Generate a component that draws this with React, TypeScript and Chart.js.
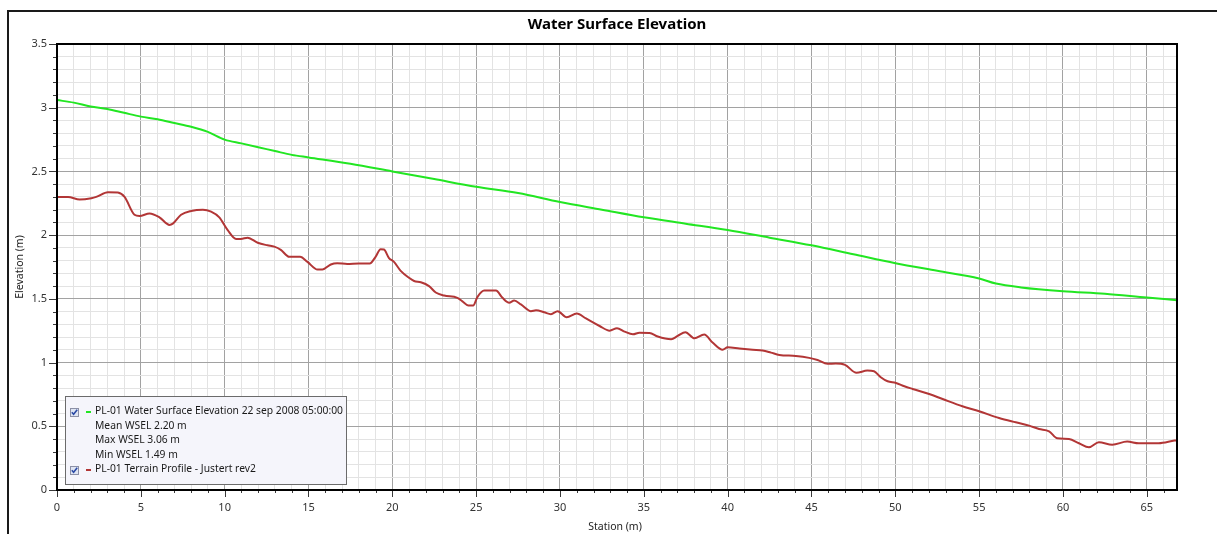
import React, { useEffect, useRef } from 'react';
import { Chart, registerables } from 'chart.js';

Chart.register(...registerables);

const W = 1217;
const H = 534;
const FONT = '"Noto Sans", "Open Sans", sans-serif';

const chartTitle = 'Water Surface Elevation';
const xAxisTitle = 'Station (m)';
const yAxisTitle = 'Elevation (m)';

const xMajorTicks = [0, 5, 10, 15, 20, 25, 30, 35, 40, 45, 50, 55, 60, 65];
const xTickLabels = ['0', '5', '10', '15', '20', '25', '30', '35', '40', '45', '50', '55', '60', '65'];
const yMajorTicks = [0, 0.5, 1, 1.5, 2, 2.5, 3, 3.5];
const yTickLabels = ['0', '0.5', '1', '1.5', '2', '2.5', '3', '3.5'];

const wseLabel = 'PL-01 Water Surface Elevation 22 sep 2008 05:00:00';
const wseStats = ['Mean WSEL 2.20 m', 'Max WSEL 3.06 m', 'Min WSEL 1.49 m'];
const terrainLabel = 'PL-01 Terrain Profile - Justert rev2';

const wseStation = [0, 1, 2, 3, 4, 5, 6, 7, 8, 9, 10, 11, 12, 13, 14, 15, 17.5, 20, 22.5, 25, 27.5, 30, 32.5, 35, 37.5, 40, 42.5, 45, 47.5, 50, 52.5, 55, 56, 57.5, 60, 62.5, 65, 66.8];
const wseElevation = [3.06, 3.04, 3.01, 2.99, 2.96, 2.93, 2.91, 2.88, 2.85, 2.81, 2.75, 2.72, 2.69, 2.66, 2.63, 2.61, 2.56, 2.5, 2.44, 2.38, 2.33, 2.26, 2.2, 2.14, 2.09, 2.04, 1.98, 1.92, 1.85, 1.78, 1.72, 1.66, 1.62, 1.59, 1.56, 1.54, 1.51, 1.49];

const terrainStation = [
  0, 0.66, 1.35, 2.05, 2.34, 3.04, 3.63, 4.03, 4.62, 4.92, 5.52, 6.11, 6.71, 6.91, 7.4, 8.0, 8.7, 9.19, 9.68,
  10.18, 10.68, 10.97, 11.37, 11.97, 12.56, 12.96, 13.35, 13.85, 14.5, 14.94, 15.54, 15.83, 16.33, 16.71, 17.31,
  18.0, 18.65, 19.0, 19.3, 19.5, 19.8, 20.1, 20.5, 21.0, 21.3, 21.7, 22.19, 22.59, 23.09, 23.88, 24.18, 24.54,
  24.82, 25.08, 25.48, 26.18, 26.57, 26.97, 27.27, 27.67, 28.27, 28.57, 29.06, 29.46, 29.86, 30.4, 31.0, 31.55,
  32.36, 32.96, 33.4, 33.85, 34.35, 34.74, 35.34, 35.83, 36.63, 37.02, 37.48, 38.02, 38.6, 39.1, 39.7, 40.0,
  40.7, 41.49, 42.08, 42.58, 43.08, 44.07, 44.86, 45.36, 45.95, 46.45, 47.0, 47.68, 48.33, 48.73, 49.13, 49.54,
  50.04, 50.54, 51.03, 52.02, 52.82, 54.0, 55.0, 56.19, 57.18, 57.98, 58.57, 59.17, 59.66, 60.36, 60.95, 61.55,
  62.14, 62.94, 63.83, 64.52, 65.71, 66.65, 66.8,
];
const terrainElevation = [
  2.3, 2.3, 2.28, 2.29, 2.3, 2.337, 2.334, 2.3, 2.16, 2.15, 2.17, 2.14, 2.08, 2.09, 2.16, 2.19, 2.2, 2.185, 2.14,
  2.04, 1.97, 1.97, 1.98, 1.94, 1.92, 1.91, 1.885, 1.83, 1.83, 1.79, 1.73, 1.73, 1.77, 1.78, 1.774,
  1.777, 1.777, 1.83, 1.89, 1.887, 1.82, 1.79, 1.72, 1.665, 1.64, 1.63, 1.6, 1.55, 1.526, 1.508, 1.48, 1.448,
  1.448, 1.516, 1.565, 1.565, 1.508, 1.47, 1.487, 1.456, 1.403, 1.41, 1.395, 1.38, 1.403, 1.356, 1.385, 1.346,
  1.287, 1.25, 1.27, 1.243, 1.222, 1.235, 1.233, 1.204, 1.183, 1.209, 1.238, 1.19, 1.22, 1.157, 1.1, 1.12,
  1.11, 1.1, 1.094, 1.078, 1.06, 1.052, 1.037, 1.02, 0.99, 0.992, 0.982, 0.92, 0.937, 0.932, 0.885, 0.853,
  0.84, 0.814, 0.793, 0.753, 0.714, 0.657, 0.618, 0.565, 0.531, 0.505, 0.479, 0.461, 0.406, 0.4, 0.367, 0.335,
  0.375, 0.356, 0.38, 0.367, 0.367, 0.388, 0.39,
];

const WSE_COLOR = '#22e622';
const TERRAIN_COLOR = '#b23636';

const isMajor = (v: number, list: number[]) => list.some((t) => Math.abs(t - v) < 1e-6);
const labelFor = (v: number, list: number[], labels: string[]) => {
  const i = list.findIndex((t) => Math.abs(t - v) < 1e-6);
  return i >= 0 ? labels[i] : '';
};

function drawCheckbox(ctx: CanvasRenderingContext2D, x: number, y: number) {
  ctx.fillStyle = '#dfe5f3';
  ctx.fillRect(x, y, 8, 8);
  ctx.strokeStyle = '#8c90a6';
  ctx.lineWidth = 1;
  ctx.strokeRect(x + 0.5, y + 0.5, 8, 8);
  ctx.strokeStyle = '#2b4aa5';
  ctx.lineWidth = 1.6;
  ctx.beginPath();
  ctx.moveTo(x + 1.8, y + 4.2);
  ctx.lineTo(x + 3.6, y + 6.2);
  ctx.lineTo(x + 7.2, y + 1.8);
  ctx.stroke();
}

const decorPlugin = {
  id: 'decor',
  beforeDraw(chart: any) {
    const ctx = chart.ctx as CanvasRenderingContext2D;
    ctx.save();
    ctx.fillStyle = '#ffffff';
    ctx.fillRect(0, 0, chart.width, chart.height);
    ctx.restore();
  },
  afterDraw(chart: any) {
    const ctx = chart.ctx as CanvasRenderingContext2D;
    const a = chart.chartArea;
    const xs = chart.scales.x;
    const ys = chart.scales.y;
    ctx.save();

    // tick marks
    ctx.strokeStyle = '#3a3a3a';
    ctx.lineWidth = 1;
    ctx.beginPath();
    ys.ticks.forEach((t: any) => {
      const py = Math.round(ys.getPixelForValue(t.value)) + 0.5;
      const len = isMajor(t.value, yMajorTicks) ? 8 : 4;
      ctx.moveTo(a.left - len, py);
      ctx.lineTo(a.left, py);
    });
    xs.ticks.forEach((t: any) => {
      const px = Math.round(xs.getPixelForValue(t.value)) + 0.5;
      const len = isMajor(t.value, xMajorTicks) ? 7 : 3;
      ctx.moveTo(px, a.bottom);
      ctx.lineTo(px, a.bottom + len);
    });
    ctx.stroke();

    // plot border
    ctx.strokeStyle = '#000000';
    ctx.lineWidth = 2;
    ctx.strokeRect(a.left, a.top, a.right - a.left, a.bottom - a.top);

    // outer frame
    ctx.strokeStyle = '#1a1a1a';
    ctx.lineWidth = 2;
    ctx.beginPath();
    ctx.moveTo(8, H);
    ctx.lineTo(8, 11);
    ctx.lineTo(W, 11);
    ctx.stroke();

    // title
    ctx.fillStyle = '#000000';
    ctx.font = `bold 15px ${FONT}`;
    ctx.textAlign = 'center';
    ctx.textBaseline = 'middle';
    ctx.fillText(chartTitle, (a.left + a.right) / 2, 25);

    // axis titles
    ctx.fillStyle = '#222222';
    ctx.font = `10.5px ${FONT}`;
    ctx.fillText(xAxisTitle, (a.left + a.right) / 2 - 2, 527);
    ctx.save();
    ctx.translate(20, (a.top + a.bottom) / 2);
    ctx.rotate(-Math.PI / 2);
    ctx.fillText(yAxisTitle, 0, 0);
    ctx.restore();

    // legend
    const lx = 65, ly = 396, lw = 281, lh = 88;
    ctx.fillStyle = '#f5f5fb';
    ctx.fillRect(lx, ly, lw, lh);
    ctx.strokeStyle = '#6b6b6b';
    ctx.lineWidth = 1;
    ctx.strokeRect(lx + 0.5, ly + 0.5, lw, lh);

    const rows = [411.5, 426, 440.5, 455, 469.5];
    ctx.font = `10.3px ${FONT}`;
    ctx.textAlign = 'left';
    ctx.textBaseline = 'middle';
    ctx.fillStyle = '#1a1a1a';

    drawCheckbox(ctx, 70, Math.round(rows[0]) - 4);
    ctx.fillStyle = WSE_COLOR;
    ctx.fillRect(86, Math.round(rows[0]) - 1, 5, 2);
    ctx.fillStyle = '#1a1a1a';
    ctx.fillText(wseLabel, 95, rows[0]);
    wseStats.forEach((s, i) => ctx.fillText(s, 95, rows[i + 1]));

    drawCheckbox(ctx, 70, Math.round(rows[4]) - 4);
    ctx.fillStyle = TERRAIN_COLOR;
    ctx.fillRect(86, Math.round(rows[4]) - 1, 5, 2);
    ctx.fillStyle = '#1a1a1a';
    ctx.fillText(terrainLabel, 95, rows[4]);

    ctx.restore();
  },
};

export default function App() {
  const canvasRef = useRef<HTMLCanvasElement | null>(null);

  useEffect(() => {
    const canvas = canvasRef.current;
    if (!canvas) return;
    const gridColor = (list: number[]) => (c: any) =>
      c.tick && isMajor(c.tick.value, list) ? '#a2a2a2' : '#e3e3e3';

    const chart = new Chart(canvas, {
      type: 'line',
      data: {
        datasets: [
          {
            label: wseLabel,
            data: wseStation.map((x, i) => ({ x, y: wseElevation[i] })),
            borderColor: WSE_COLOR,
            backgroundColor: WSE_COLOR,
            borderWidth: 2,
            pointRadius: 0,
            cubicInterpolationMode: 'monotone',
            fill: false,
          },
          {
            label: terrainLabel,
            data: terrainStation.map((x, i) => ({ x, y: terrainElevation[i] })),
            borderColor: TERRAIN_COLOR,
            backgroundColor: TERRAIN_COLOR,
            borderWidth: 2,
            pointRadius: 0,
            cubicInterpolationMode: 'monotone',
            fill: false,
          },
        ],
      },
      options: {
        responsive: false,
        animation: false,
        devicePixelRatio: 1,
        layout: { padding: { left: 0, top: 44, right: 40, bottom: 0 } },
        plugins: {
          legend: { display: false },
          title: { display: false },
          tooltip: { enabled: false },
        },
        scales: {
          x: {
            type: 'linear',
            min: 0,
            max: 66.8,
            afterFit: (s: any) => {
              s.height = 44;
            },
            ticks: {
              stepSize: 1,
              includeBounds: false,
              autoSkip: false,
              maxRotation: 0,
              minRotation: 0,
              padding: 11,
              color: '#333333',
              font: { family: FONT, size: 11 },
              callback: (v: any) => labelFor(Number(v), xMajorTicks, xTickLabels),
            },
            grid: { color: gridColor(xMajorTicks), lineWidth: 1, drawTicks: false },
            border: { display: false },
          },
          y: {
            type: 'linear',
            min: 0,
            max: 3.5,
            afterFit: (s: any) => {
              s.width = 57;
            },
            ticks: {
              stepSize: 0.1,
              includeBounds: false,
              autoSkip: false,
              padding: 10,
              color: '#333333',
              font: { family: FONT, size: 11 },
              callback: (v: any) => labelFor(Number(v), yMajorTicks, yTickLabels),
            },
            grid: { color: gridColor(yMajorTicks), lineWidth: 1, drawTicks: false },
            border: { display: false },
          },
        },
      },
      plugins: [decorPlugin],
    } as any);

    return () => chart.destroy();
  }, []);

  return (
    <div style={{ position: 'fixed', left: 0, top: 0, width: W, height: H, background: '#fff' }}>
      <canvas ref={canvasRef} width={W} height={H} style={{ display: 'block', width: W, height: H }} />
    </div>
  );
}
